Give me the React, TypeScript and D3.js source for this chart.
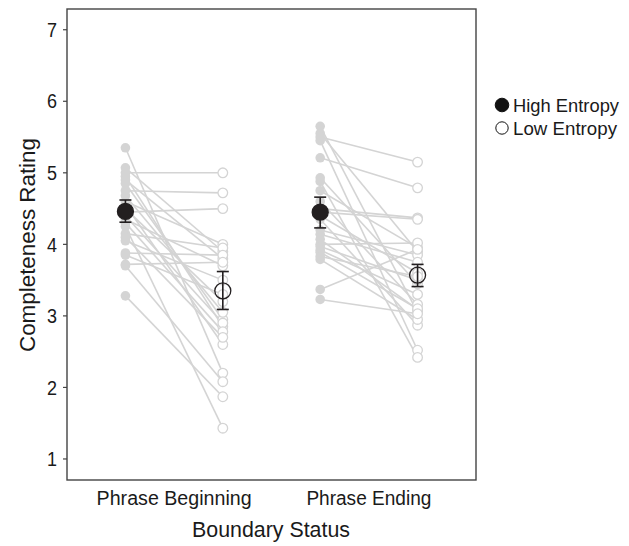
import React, { useEffect, useRef } from "react";
import * as d3 from "d3";

const categories = ["Phrase Beginning", "Phrase Ending"];
const yTicks = [1, 2, 3, 4, 5, 6, 7];

// individual participants, high vs low entropy, per category
const beginHigh = [5.35, 5.07, 5.0, 4.95, 4.9, 4.85, 4.75, 4.68, 4.6, 4.55, 4.5, 4.45, 4.4, 4.35, 4.3, 4.25, 4.15, 4.1, 4.05, 3.88, 3.85, 3.72, 3.7, 3.28];
const beginLow = [2.2, 3.9, 5.0, 2.85, 3.8, 2.95, 4.72, 3.05, 4.0, 2.6, 3.2, 4.5, 2.9, 3.7, 2.78, 1.43, 3.95, 2.7, 3.5, 3.85, 3.3, 3.75, 2.08, 1.87];
const endHigh = [5.65, 5.55, 5.5, 5.45, 5.21, 4.93, 4.88, 4.75, 4.6, 4.5, 4.45, 4.4, 4.35, 4.2, 4.14, 4.07, 4.0, 3.97, 3.92, 3.89, 3.83, 3.79, 3.37, 3.23];
const endLow = [3.05, 3.9, 5.15, 2.52, 4.79, 3.45, 2.42, 3.95, 3.16, 4.37, 4.35, 3.6, 2.87, 3.85, 3.75, 3.09, 4.02, 3.5, 3.3, 3.1, 3.55, 2.95, 3.93, 3.03];

// means and error bar bounds: [beginning, ending]
const meanHigh = [4.46, 4.45];
const errHigh = [[4.31, 4.62], [4.23, 4.66]];
const meanLow = [3.35, 3.57];
const errLow = [[3.09, 3.62], [3.41, 3.72]];

const FONT = "'Liberation Sans', Arial, sans-serif";

const App = () => {
  const ref = useRef<SVGSVGElement>(null);

  useEffect(() => {
    const svg = d3.select(ref.current);
    svg.selectAll("*").remove();

    const left = 67, right = 476, top = 9, bottom = 480;

    const x = d3.scaleLinear().domain([0.45, 2.55]).range([left, right]);
    const y = d3.scaleLinear().domain([0.706, 7.29]).range([bottom, top]);
    const dodge = 0.25;

    // condensed-looking text: squeeze glyphs to the measured width
    const label = (parent: any, txt: string, size: number, width: number) =>
      parent.append("text")
        .attr("font-family", FONT).attr("font-size", size).attr("fill", "#1a1a1a")
        .attr("textLength", width).attr("lengthAdjust", "spacingAndGlyphs")
        .text(txt);

    const groups = [
      { high: beginHigh, low: beginLow },
      { high: endHigh, low: endLow },
    ];

    svg.append("rect")
      .attr("x", left).attr("y", top)
      .attr("width", right - left).attr("height", bottom - top)
      .attr("fill", "white");

    const plot = svg.append("g");

    groups.forEach((g, i) => {
      const xh = x(i + 1 - dodge);
      const xl = x(i + 1 + dodge);
      g.high.forEach((v, j) => {
        plot.append("line")
          .attr("x1", xh).attr("y1", y(v))
          .attr("x2", xl).attr("y2", y(g.low[j]))
          .attr("stroke", "#d4d4d4").attr("stroke-width", 1.6);
      });
      plot.selectAll(null).data(g.high).enter().append("circle")
        .attr("cx", xh).attr("cy", d => y(d)).attr("r", 4.8)
        .attr("fill", "#d4d4d4");
      plot.selectAll(null).data(g.low).enter().append("circle")
        .attr("cx", xl).attr("cy", d => y(d)).attr("r", 4.8)
        .attr("fill", "white").attr("stroke", "#d4d4d4").attr("stroke-width", 1.3);
    });

    const drawMean = (xc: number, m: number, e: number[], filled: boolean) => {
      const g = plot.append("g").attr("stroke", "#231f20").attr("stroke-width", 1.6);
      g.append("line").attr("x1", xc).attr("x2", xc).attr("y1", y(e[0])).attr("y2", y(e[1]));
      g.append("line").attr("x1", xc - 6).attr("x2", xc + 6).attr("y1", y(e[0])).attr("y2", y(e[0]));
      g.append("line").attr("x1", xc - 6).attr("x2", xc + 6).attr("y1", y(e[1])).attr("y2", y(e[1]));
      plot.append("circle")
        .attr("cx", xc).attr("cy", y(m)).attr("r", 8)
        .attr("fill", filled ? "#231f20" : "none")
        .attr("stroke", "#231f20").attr("stroke-width", 1.3);
    };
    categories.forEach((c, i) => {
      drawMean(x(i + 1 - dodge), meanHigh[i], errHigh[i], true);
      drawMean(x(i + 1 + dodge), meanLow[i], errLow[i], false);
    });

    svg.append("rect")
      .attr("x", left).attr("y", top)
      .attr("width", right - left).attr("height", bottom - top)
      .attr("fill", "none").attr("stroke", "#444").attr("stroke-width", 1.4);

    // y axis
    yTicks.forEach(t => {
      svg.append("line").attr("x1", left - 4).attr("x2", left).attr("y1", y(t)).attr("y2", y(t))
        .attr("stroke", "#444").attr("stroke-width", 1.2);
      label(svg, String(t), 20, 10)
        .attr("x", left - 10 - 10).attr("y", y(t)).attr("dy", "0.36em");
    });

    // x labels
    const xWidths = [155, 125];
    categories.forEach((c, i) => {
      label(svg, c, 20, xWidths[i])
        .attr("x", x(i + 1) - xWidths[i] / 2).attr("y", 505);
    });

    label(svg, "Boundary Status", 22.5, 158).attr("x", 271 - 79).attr("y", 537);

    label(svg, "Completeness Rating", 22, 214)
      .attr("transform", `translate(34.5, ${245 + 107}) rotate(-90)`);

    // legend
    const legend = [
      { label: "High Entropy", filled: true, w: 106 },
      { label: "Low Entropy", filled: false, w: 104 },
    ];
    legend.forEach((l, i) => {
      const ly = 105 + i * 23;
      svg.append("circle").attr("cx", 502).attr("cy", ly).attr("r", l.filled ? 6.8 : 6.2)
        .attr("fill", l.filled ? "#111" : "white").attr("stroke", "#111").attr("stroke-width", 1);
      label(svg, l.label, 19, l.w).attr("x", 513).attr("y", ly).attr("dy", "0.36em");
    });
  }, []);

  return (
    <svg ref={ref} width={629} height={546}
      style={{ position: "absolute", left: 0, top: 0, background: "white" }} />
  );
};

export default App;
